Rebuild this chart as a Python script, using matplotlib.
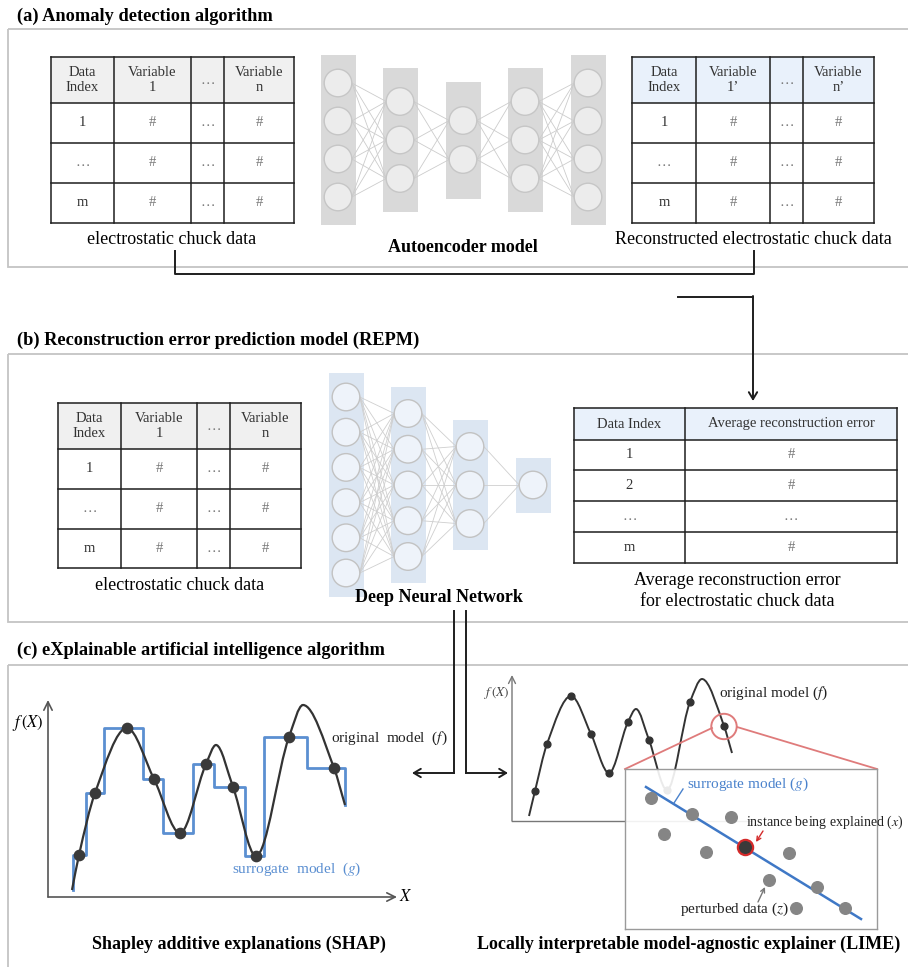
import numpy as np
import matplotlib.pyplot as plt
from matplotlib.patches import Rectangle, Circle, PathPatch
from matplotlib.path import Path

plt.rcParams['font.family'] = ['Liberation Serif', 'DejaVu Serif']
plt.rcParams['mathtext.fontset'] = 'stix'

# table contents
var_header = ["Data\nIndex", "Variable\n1", "…", "Variable\nn"]
recon_header = ["Data\nIndex", "Variable\n1’", "…", "Variable\nn’"]
var_rows = [["1", "#", "…", "#"], ["…", "#", "…", "#"], ["m", "#", "…", "#"]]
err_header = ["Data Index", "Average reconstruction error"]
err_rows = [["1", "#"], ["2", "#"], ["…", "…"], ["m", "#"]]

# neurons per layer
ae_layers = [4, 3, 2, 3, 4]
dnn_layers = [6, 5, 3, 1]

# SHAP panel: original model f, sampled points, surrogate g (step function)
shap_curve_x = [2.4, 3.1, 4.7, 7.9, 10.6, 13.2, 15.8, 16.8, 18.5, 20.8, 24.1, 25.5, 28.6, 29.7]
shap_curve_y = [0.7, 4.2, 10.4, 16.9, 11.8, 6.4, 13.3, 15.2, 11.0, 4.1, 16.0, 19.2, 12.9, 9.2]
shap_pts_x = [3.1, 4.7, 7.9, 10.6, 13.2, 15.8, 18.5, 20.8, 24.1, 28.6]
shap_pts_y = [4.2, 10.4, 16.9, 11.8, 6.4, 13.3, 11.0, 4.1, 16.0, 12.9]
shap_edges = [2.5, 3.8, 5.6, 9.5, 11.5, 14.5, 16.6, 19.7, 21.6, 25.9, 29.7]
g_start, g_end = 0.7, 9.2

# LIME panel: original model f and sampled points
lime_curve_x = [1.7, 2.3, 3.5, 5.9, 7.9, 9.7, 11.6, 12.4, 13.7, 15.5, 17.8, 19.0, 21.2, 22.0]
lime_curve_y = [0.5, 3.0, 7.7, 12.5, 8.7, 4.8, 9.9, 11.2, 8.1, 3.1, 11.9, 14.2, 9.5, 6.8]
lime_pts_x = [2.3, 3.5, 5.9, 7.9, 9.7, 11.6, 13.7, 15.5, 17.8, 21.2]
lime_pts_y = [3.0, 7.7, 12.5, 8.7, 4.8, 9.9, 8.1, 3.1, 11.9, 9.5]
instance_xy = (21.2, 9.45)

# LIME local view: perturbed samples z, explained instance x, surrogate line g
z_x = [2.6, 6.7, 10.6, 3.9, 8.1, 16.4, 14.4, 19.2, 17.1, 22.0]
z_y = [13.1, 11.5, 11.2, 9.5, 7.7, 7.6, 4.9, 4.2, 2.1, 2.1]
local_x = (12.0, 8.2)
g_line_x = [2.1, 23.6]
g_line_y = [14.2, 1.0]

W, H = 908, 967
fig = plt.figure(figsize=(W / 100, H / 100), dpi=100)
ax = fig.add_axes([0, 0, 1, 1])
ax.set_xlim(0, W)
ax.set_ylim(H, 0)
ax.axis('off')

BOX = '#c4c4c4'
INK = '#1e1e1e'


def smooth_path(xs, ys):
    # monotone cubic through the knots, drawn as Bezier segments
    x = np.asarray(xs, float)
    y = np.asarray(ys, float)
    h = np.diff(x)
    d = np.diff(y) / h
    m = np.zeros_like(x)
    m[0], m[-1] = d[0], d[-1]
    for i in range(1, len(x) - 1):
        if d[i - 1] * d[i] > 0:
            w1 = 2 * h[i] + h[i - 1]
            w2 = h[i] + 2 * h[i - 1]
            m[i] = (w1 + w2) / (w1 / d[i - 1] + w2 / d[i])
    verts = [(x[0], y[0])]
    codes = [Path.MOVETO]
    for i in range(len(h)):
        verts += [(x[i] + h[i] / 3, y[i] + m[i] * h[i] / 3),
                  (x[i + 1] - h[i] / 3, y[i + 1] - m[i + 1] * h[i] / 3),
                  (x[i + 1], y[i + 1])]
        codes += [Path.CURVE4] * 3
    return Path(verts, codes)


def draw_table(xe, ye, header, rows, head_color):
    ax.add_patch(Rectangle((xe[0], ye[0]), xe[-1] - xe[0], ye[1] - ye[0],
                           facecolor=head_color, edgecolor='none', zorder=1))
    for yy in ye:
        ax.plot([xe[0], xe[-1]], [yy, yy], color=INK, lw=1.1, zorder=2)
    for xx in xe:
        ax.plot([xx, xx], [ye[0], ye[-1]], color=INK, lw=1.1, zorder=2)
    for r, row in enumerate([header] + rows):
        yc = (ye[r] + ye[r + 1]) / 2
        for c, txt in enumerate(row):
            xc = (xe[c] + xe[c + 1]) / 2
            col = '#777777' if txt in ('…', '#') else '#333333'
            ax.text(xc, yc, txt, ha='center', va='center', fontsize=10.5,
                    color=col, linespacing=1.15, zorder=3)


def draw_network(layers, xs, yc, gaps, halfs, rect_c, node_c, edge_c, line_c):
    r = 13.8
    nodes = []
    for n, x, gap, hh in zip(layers, xs, gaps, halfs):
        ax.add_patch(Rectangle((x - 17.5, yc - hh), 35, 2 * hh,
                               facecolor=rect_c, edgecolor='none', zorder=1))
        ys = yc + (np.arange(n) - (n - 1) / 2) * gap
        nodes.append((x, ys))
        for y in ys:
            ax.add_patch(Circle((x, y), r, facecolor=node_c, edgecolor=edge_c,
                                lw=1.0, zorder=3))
    for (x0, y0s), (x1, y1s) in zip(nodes[:-1], nodes[1:]):
        for y0 in y0s:
            for y1 in y1s:
                ax.plot([x0 + r, x1 - r], [y0, y1], color=line_c, lw=0.6, zorder=2)


def arrow(x0, y0, x1, y1):
    ax.annotate('', xy=(x1, y1), xytext=(x0, y0),
                arrowprops=dict(arrowstyle='->,head_length=0.5,head_width=0.3',
                                color=INK, lw=1.4, shrinkA=0, shrinkB=0))


# section frames and titles
for y0, y1, title, ty in [(29, 267, '(a) Anomaly detection algorithm', 16),
                          (354, 622, '(b) Reconstruction error prediction model (REPM)', 340),
                          (665, 975, '(c) eXplainable artificial intelligence algorithm', 650)]:
    ax.add_patch(Rectangle((8, y0), 910, y1 - y0, facecolor='none',
                           edgecolor=BOX, lw=1.3, zorder=0))
    ax.text(17, ty, title, ha='left', va='center', fontsize=13.2, fontweight='bold')

# (a) anomaly detection
draw_table([51, 114, 191, 224, 294], [57, 103, 143, 183, 223], var_header, var_rows, '#f0f0f0')
ax.text(172, 240, 'electrostatic chuck data', ha='center', va='center', fontsize=13)
draw_network(ae_layers, [338, 400, 463, 525, 588], 140, [38, 38.5, 39, 38.5, 38],
             [85, 72, 58.5, 72, 85], '#d9d9d9', '#ececec', '#c6c6c6', '#cccccc')
ax.text(463, 247, 'Autoencoder model', ha='center', va='center', fontsize=13,
        fontweight='bold')
draw_table([632, 696, 770, 803, 874], [57, 103, 143, 183, 223], recon_header, var_rows, '#e9f1fb')
ax.text(753, 240, 'Reconstructed electrostatic chuck data', ha='center', va='center',
        fontsize=13)

# connectors between (a) and (b)
ax.plot([175, 175, 754, 754], [251, 274, 274, 251], color=INK, lw=1.4)
ax.plot([678, 753], [297, 297], color=INK, lw=1.4)
arrow(753, 296, 753, 401)

# (b) REPM
draw_table([58, 121, 197, 230, 301], [403, 449, 489, 529, 568], var_header, var_rows, '#f0f0f0')
ax.text(180, 585, 'electrostatic chuck data', ha='center', va='center', fontsize=13)
draw_network(dnn_layers, [346, 408, 470, 533], 485, [35.2, 35.75, 38.5, 0],
             [112, 98, 65, 27.5], '#dce6f2', '#eef3fa', '#c2c2c2', '#cfcfcf')
ax.text(439, 598, 'Deep Neural Network', ha='center', va='center', fontsize=13,
        fontweight='bold')
draw_table([574, 685, 897], [408, 440, 470, 501, 532, 563], err_header, err_rows, '#e9f1fb')
ax.text(737, 591, 'Average reconstruction error\nfor electrostatic chuck data',
        ha='center', va='center', fontsize=13, linespacing=1.25)

# connectors into (c)
ax.plot([454, 454], [611, 773], color=INK, lw=1.4)
arrow(454, 773, 412, 773)
ax.plot([466, 466], [611, 773], color=INK, lw=1.4)
arrow(466, 773, 508, 773)

ax.text(239, 944, 'Shapley additive explanations (SHAP)', ha='center', va='center',
        fontsize=13, fontweight='bold')
ax.text(689, 944, 'Locally interpretable model-agnostic explainer (LIME)',
        ha='center', va='center', fontsize=13, fontweight='bold')


def px_axes(x0, y0, x1, y1):
    return fig.add_axes([x0 / W, 1 - y1 / H, (x1 - x0) / W, (y1 - y0) / H])


# (c) SHAP panel
sx = px_axes(48, 700, 397, 897)
sx.set_xlim(0, 34.9)
sx.set_ylim(0, 19.7)
sx.axis('off')
sx.patch.set_alpha(0)
ap = dict(arrowstyle='->,head_length=0.6,head_width=0.3', color='#555555', lw=1.2,
          shrinkA=0, shrinkB=0)
sx.annotate('', xy=(34.9, 0), xytext=(0, 0), arrowprops=ap, annotation_clip=False)
sx.annotate('', xy=(0, 19.7), xytext=(0, 0), arrowprops=ap, annotation_clip=False)
sx.text(35.8, 0, '$X$', ha='center', va='center', fontsize=12, clip_on=False)
sx.text(-2.0, 17.4, '$f\\,(X)$', ha='center', va='center', fontsize=12, clip_on=False)

step_x, step_y = [shap_edges[0]], [g_start]
for i, v in enumerate(shap_pts_y):
    step_x += [shap_edges[i], shap_edges[i + 1]]
    step_y += [v, v]
step_x.append(shap_edges[-1])
step_y.append(g_end)
sx.plot(step_x, step_y, color='#5b8fd1', lw=2.0, zorder=2, clip_on=False)
sx.add_patch(PathPatch(smooth_path(shap_curve_x, shap_curve_y), facecolor='none',
                       edgecolor='#333333', lw=1.6, zorder=3, clip_on=False))
sx.scatter(shap_pts_x, shap_pts_y, s=55, color='#3a3a3a', zorder=4, clip_on=False)
sx.text(28.3, 15.9, 'original  model  ($f$)', ha='left', va='center', fontsize=11,
        color='#222222', clip_on=False)
sx.text(18.4, 2.8, 'surrogate  model  ($g$)', ha='left', va='center', fontsize=11,
        color='#5b8fd1', clip_on=False)

# (c) LIME panel
lx = px_axes(512, 675, 877, 821)
lx.set_xlim(0, 36.5)
lx.set_ylim(0, 14.6)
lx.axis('off')
lx.patch.set_alpha(0)
ap2 = dict(arrowstyle='->,head_length=0.5,head_width=0.25', color='#777777', lw=1.0,
           shrinkA=0, shrinkB=0)
lx.plot([0, 24], [0, 0], color='#777777', lw=1.0, clip_on=False)
lx.annotate('', xy=(0, 14.6), xytext=(0, 0), arrowprops=ap2, annotation_clip=False)
lx.text(-1.5, 12.8, '$f\\,(X)$', ha='center', va='center', fontsize=9.5,
        color='#444444', clip_on=False)
lx.add_patch(PathPatch(smooth_path(lime_curve_x, lime_curve_y), facecolor='none',
                       edgecolor='#333333', lw=1.4, zorder=3, clip_on=False))
lx.scatter(lime_pts_x, lime_pts_y, s=24, color='#333333', zorder=4, clip_on=False)
lx.text(20.7, 12.8, 'original model ($f$)', ha='left', va='center', fontsize=11,
        color='#222222', clip_on=False)
lx.add_patch(Circle(instance_xy, 1.27, facecolor='none', edgecolor='#df7b7b', lw=1.4,
                    zorder=5, clip_on=False))
lx.plot([20.0, 11.3], [9.3, 5.2], color='#df7b7b', lw=1.3, clip_on=False, zorder=5)
lx.plot([22.5, 36.5], [9.4, 5.2], color='#df7b7b', lw=1.3, clip_on=False, zorder=5)

# LIME local view
ix = px_axes(625, 769, 877, 929)
ix.set_xlim(0, 25.2)
ix.set_ylim(0, 16.0)
ix.set_xticks([])
ix.set_yticks([])
ix.patch.set_facecolor('white')
ix.patch.set_alpha(0.9)
for s in ix.spines.values():
    s.set_color('#9a9a9a')
    s.set_linewidth(1.0)
ix.plot(g_line_x, g_line_y, color='#3f78c6', lw=1.8, zorder=2)
ix.scatter(z_x, z_y, s=70, color='#858585', zorder=3)
ix.scatter([local_x[0]], [local_x[1]], s=120, color='#3a3a3a', edgecolor='#d42a2a',
           linewidth=1.6, zorder=4)
ix.text(6.2, 14.5, 'surrogate model ($g$)', ha='left', va='center', fontsize=11,
        color='#4a82cc')
ix.plot([5.8, 4.9], [14.0, 12.6], color='#4a82cc', lw=1.0)
ix.text(12.1, 10.7, 'instance being explained ($x$)', ha='left', va='center',
        fontsize=10, color='#222222', clip_on=False)
ix.annotate('', xy=(13.1, 8.7), xytext=(13.8, 9.8),
            arrowprops=dict(arrowstyle='->,head_length=0.3,head_width=0.15',
                            color='#d42a2a', lw=1.0, shrinkA=0, shrinkB=0))
ix.text(5.5, 2.0, 'perturbed data ($z$)', ha='left', va='center', fontsize=11,
        color='#222222')
ix.annotate('', xy=(14.0, 4.2), xytext=(13.3, 2.7),
            arrowprops=dict(arrowstyle='->,head_length=0.3,head_width=0.15',
                            color='#777777', lw=1.0, shrinkA=0, shrinkB=0))

fig.savefig('out.png', dpi=100)
